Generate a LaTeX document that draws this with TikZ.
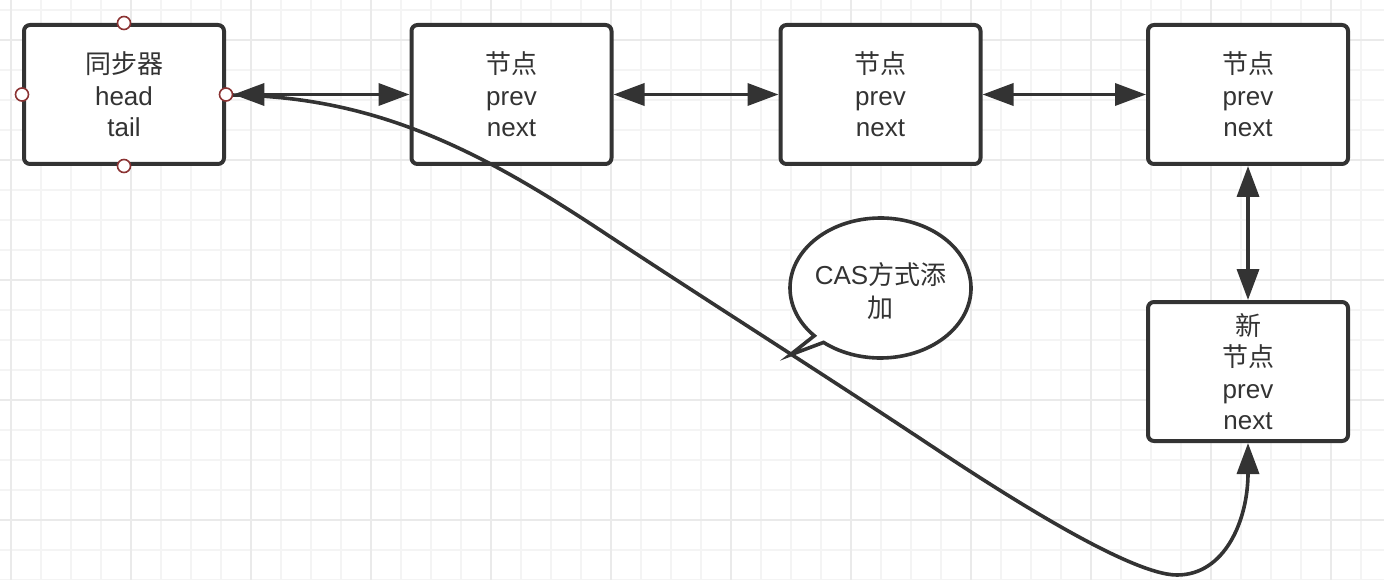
\documentclass[tikz,border=0pt]{standalone}
\usepackage{fontspec}
\setmainfont{Liberation Sans}
\newfontfamily\cjk{Noto Sans CJK SC}
\usetikzlibrary{arrows.meta}
\definecolor{ink}{HTML}{333333}
\definecolor{gridminor}{HTML}{F4F4F4}
\definecolor{gridmajor}{HTML}{EAEAEA}
\definecolor{portred}{HTML}{8B3333}
\begin{document}
\begin{tikzpicture}[x=1pt,y=-1pt,
  box/.style={draw=ink, line width=4pt, rounded corners=6pt, fill=white,
    minimum width=200pt, minimum height=139pt, inner sep=0pt, align=center,
    text=ink, font=\fontsize{26}{31.5}\selectfont},
  port/.style={circle, draw=portred, fill=white, line width=1.6pt,
    minimum size=13pt, inner sep=0pt},
  link/.style={draw=ink, line width=3.6pt, {Triangle[length=31pt,width=22pt]}-{Triangle[length=31pt,width=22pt]}},
  curvelink/.style={draw=ink, line width=3.6pt, -{Triangle[length=31pt,width=22pt]}},
  minorline/.style={draw=gridminor, line width=1.6pt},
  majorline/.style={draw=gridmajor, line width=1.6pt},
  callout/.style={draw=ink, line width=3.6pt, fill=white, line join=miter},
  notetext/.style={align=center, text=ink, inner sep=0pt, font=\fontsize{26}{32.5}\selectfont}
]
\useasboundingbox (0,0) rectangle (1384,580);
\fill[white] (0,0) rectangle (1384,580);
% grid
\foreach \x in {11,41,...,1381} \draw[minorline] (\x,0) -- (\x,580);
\foreach \y in {10,40,...,580} \draw[minorline] (0,\y) -- (1384,\y);
\foreach \x in {11,131,...,1331} \draw[majorline] (\x,0) -- (\x,580);
\foreach \y in {40,160,...,520} \draw[majorline] (0,\y) -- (1384,\y);

% boxes
\node[box] (sync) at (124,94.5) {{\cjk 同步器}\\head\\tail};
\node[box] (n2) at (511.5,94.5) {{\cjk 节点}\\prev\\next};
\node[box] (n3) at (880.5,94.5) {{\cjk 节点}\\prev\\next};
\node[box] (n4) at (1248,94.5) {{\cjk 节点}\\prev\\next};
\node[box] (new) at (1248,371.5) {{\cjk 新}\\{\cjk 节点}\\prev\\next};

% curved connector
\draw[curvelink] (226,95) .. controls (374,95) and (480,150.8) .. (600,230)
  .. controls (711,303.3) and (822,373.3) .. (933,447)
  .. controls (1003,493.5) and (1130,575) .. (1177,575)
  .. controls (1225,575) and (1248,520) .. (new.south);

% ports
\node[port] (pt) at (sync.north) {};
\node[port] (pb) at (sync.south) {};
\node[port] (pl) at (sync.west) {};
\node[port] (pr) at (sync.east) {};

% straight connectors
\draw[link] (pr.east) -- (n2.west);
\draw[link] (n2.east) -- (n3.west);
\draw[link] (n3.east) -- (n4.west);
\draw[link] (n4.south) -- (new.north);

% callout
\draw[callout] (880.5,288) ++(129:90.5 and 70)
  arc[start angle=129, end angle=-223, x radius=90.5, y radius=70]
  -- (790,355) -- cycle;
\node[notetext] (cas) at (880.5,291) {CAS{\cjk 方式添}\\{\cjk 加}};
\end{tikzpicture}
\end{document}
